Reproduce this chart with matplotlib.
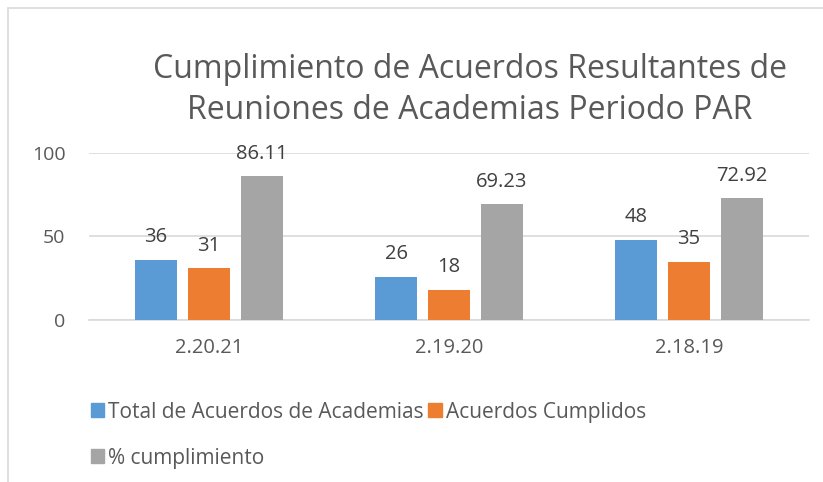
import matplotlib
matplotlib.use('Agg')
import matplotlib.pyplot as plt
import numpy as np
from matplotlib.patches import Rectangle, Patch

plt.rcParams['font.family'] = ['Open Sans', 'DejaVu Sans']

categories = ['2.20.21', '2.19.20', '2.18.19']
total_acuerdos = [36, 26, 48]
cumplidos = [31, 18, 35]
pct_cumplimiento = [86.11, 69.23, 72.92]
series_names = ['Total de Acuerdos de Academias', 'Acuerdos Cumplidos', '% cumplimiento']
colors = ['#5B9BD5', '#ED7D31', '#A5A5A5']
title = 'Cumplimiento de Acuerdos Resultantes de\nReuniones de Academias Periodo PAR'

fig = plt.figure(figsize=(8.23, 4.82), dpi=100)
ax = fig.add_axes([89 / 823, 0.336, 720 / 823, 0.347])

# chart frame (light grey border, cut at right and bottom)
fig.patches.append(Rectangle((8 / 823, -0.1), 1.2, 1 - 8 / 482 + 0.1,
                             transform=fig.transFigure, fill=False,
                             edgecolor='#d9d9d9', linewidth=1.2))

x = np.arange(len(categories))
w = 42 / 240
step = 53 / 240
labels_fmt = ['%g', '%g', '%.2f']
for i, vals in enumerate([total_acuerdos, cumplidos, pct_cumplimiento]):
    bars = ax.bar(x + (i - 1) * step, vals, width=w, color=colors[i], zorder=3)
    ax.bar_label(bars, labels=[labels_fmt[i] % v for v in vals], padding=9,
                 fontsize=14.5, color='#404040')

ax.set_xlim(-0.5, len(categories) - 0.5)
ax.set_ylim(0, 100)
ax.set_yticks([0, 50, 100])
ax.set_xticks(x)
ax.set_xticklabels(categories)
ax.tick_params(axis='both', length=0, labelsize=14, labelcolor='#595959')
ax.tick_params(axis='x', pad=13, labelsize=14.5)
ax.tick_params(axis='y', pad=17)
ax.grid(axis='y', color='#d9d9d9', linewidth=1.2, zorder=0)
for s in ['top', 'right', 'left']:
    ax.spines[s].set_visible(False)
ax.spines['bottom'].set_color('#d9d9d9')
ax.spines['bottom'].set_linewidth(1.2)

fig.text(470 / 823, 1 - 90 / 482, title, ha='center', va='center',
         fontsize=23, color='#595959', linespacing=1.33)

handles = [Patch(color=c) for c in colors]
order = [0, 2, 1]
fig.legend([handles[k] for k in order], [series_names[k] for k in order],
           ncol=2, loc='upper left', bbox_to_anchor=(72 / 823, 1 - 383 / 482),
           frameon=False, fontsize=15, labelcolor='#595959',
           handlelength=0.65, handleheight=0.65, handletextpad=0.2,
           columnspacing=0.2, labelspacing=1.2)

fig.savefig('out.png', dpi=100)
